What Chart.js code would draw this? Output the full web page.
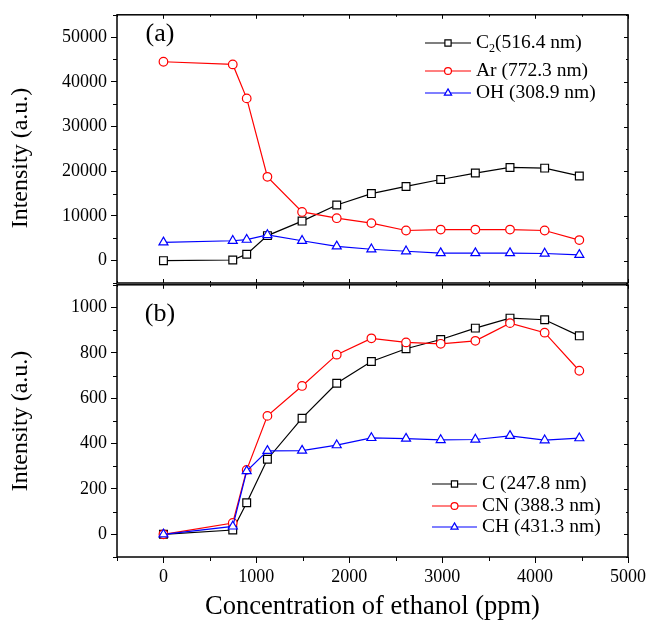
<!DOCTYPE html>
<html><head><meta charset="utf-8">
<script src="https://cdn.jsdelivr.net/npm/chart.js@4/dist/chart.umd.min.js"></script>
<style>
html,body{margin:0;padding:0;background:#fff;}
#wrap{position:relative;width:649px;height:624px;overflow:hidden;font-family:"Liberation Serif","Times New Roman",serif;}
canvas{position:absolute;left:0;}
.ytitle{position:absolute;font-size:24px;white-space:nowrap;transform:translate(-50%,-50%) rotate(-90deg);color:#000;line-height:1;}
</style></head><body>
<div id="wrap">
<canvas id="ca" width="649" height="300" style="top:0;width:649px;height:300px"></canvas>
<canvas id="cb" width="649" height="354" style="top:270px;width:649px;height:354px"></canvas>
<div class="ytitle" style="left:19px;top:158px">Intensity (a.u.)</div>
<div class="ytitle" style="left:19px;top:421px">Intensity (a.u.)</div>
</div>
<script>
// ---- data ----
const concentration = [0, 746, 896, 1119, 1492, 1865, 2238, 2611, 2984, 3357, 3730, 4103, 4476];
// panel (a)
const c2Values = [0, 150, 1450, 5600, 8850, 12450, 15000, 16600, 18150, 19600, 20850, 20700, 18950];
const arValues = [44500, 43900, 36300, 18750, 10900, 9500, 8400, 6750, 6950, 6950, 6950, 6750, 4600];
const ohValues = [4100, 4450, 4700, 5750, 4450, 3200, 2550, 2100, 1700, 1700, 1700, 1600, 1300];
// panel (b)
const cValues  = [0, 19, 139, 331, 512, 666, 762, 818, 859, 909, 953, 946, 875];
const cnValues = [0, 50, 284, 522, 654, 792, 864, 846, 840, 853, 931, 889, 721];
const chValues = [0, 35, 279, 368, 369, 393, 425, 422, 416, 418, 434, 415, 424];
// labels
const labelsA = ['C₂(516.4 nm)', 'Ar (772.3 nm)', 'OH (308.9 nm)'];
const labelsB = ['C (247.8 nm)', 'CN (388.3 nm)', 'CH (431.3 nm)'];
// ticks
const xTicks = [0, 1000, 2000, 3000, 4000, 5000];
const yTicksA = [0, 10000, 20000, 30000, 40000, 50000];
const yTicksB = [0, 200, 400, 600, 800, 1000];

const FONT = '"Liberation Serif", "Times New Roman", serif';

function pts(ys){ return concentration.map((x,i)=>({x:x, y:ys[i]})); }
function ds(label, ys, color, style, r, order){
  return {label, data: pts(ys), borderColor: color, backgroundColor:'#fff',
    borderWidth:1.2, pointStyle:style, pointRadius:r, pointBorderWidth:1.2,
    pointBackgroundColor:'#fff', pointBorderColor:color, tension:0, order, clip:false};
}

function marker(ctx, style, r, x, y){
  ctx.beginPath();
  if(style==='rect'){ const s=r*Math.SQRT1_2; ctx.rect(x-s,y-s,2*s,2*s); }
  else if(style==='circle'){ ctx.arc(x,y,r,0,Math.PI*2); }
  else { const a=Math.sin(2*Math.PI/3)*r; ctx.moveTo(x,y-r); ctx.lineTo(x+a,y+r/2); ctx.lineTo(x-a,y+r/2); ctx.closePath(); }
  ctx.fill(); ctx.stroke();
}
function drawLabel(ctx, text, x, y, size){
  ctx.textAlign='left'; ctx.textBaseline='middle'; ctx.fillStyle='#000';
  const f = size+'px '+FONT;
  ctx.font=f;
  const parts = text.split('₂');
  if(parts.length===1){ ctx.fillText(text,x,y); return; }
  ctx.fillText(parts[0],x,y); let w=ctx.measureText(parts[0]).width;
  ctx.font=(size*0.62)+'px '+FONT;
  ctx.fillText('2',x+w,y+size*0.3); w+=ctx.measureText('2').width;
  ctx.font=f; ctx.fillText(parts[1],x+w,y);
}

const decor = {
  id:'decor',
  afterDatasetsDraw(chart, args, o){
    const ctx=chart.ctx, a=chart.chartArea, xs=chart.scales.x, ys=chart.scales.y;
    ctx.save();
    ctx.strokeStyle='#000'; ctx.lineWidth=1;
    for(let v=ys.min; v<=ys.max+1e-6; v+=o.yMinor){
      const p=Math.round(ys.getPixelForValue(v))+0.5;
      const major = o.yMajor.includes(v);
      ctx.beginPath();
      if(!major){ ctx.moveTo(a.left-4,p); ctx.lineTo(a.left,p); }
      ctx.moveTo(a.right,p); ctx.lineTo(a.right-(major?4:2),p);
      ctx.stroke();
    }
    for(let v=xs.min; v<=xs.max+1e-6; v+=500){
      const p=Math.round(xs.getPixelForValue(v))+0.5;
      const major = xTicks.includes(v);
      ctx.beginPath();
      ctx.moveTo(p,a.top); ctx.lineTo(p,a.top+(major?4:2));
      if(o.bottomOut){ if(!major){ ctx.moveTo(p,a.bottom); ctx.lineTo(p,a.bottom+4);} }
      else { ctx.moveTo(p,a.bottom); ctx.lineTo(p,a.bottom-(major?4:2)); }
      ctx.stroke();
    }
    ctx.lineWidth=1.5;
    ctx.strokeRect(a.left,a.top,a.right-a.left,a.bottom-a.top);
    ctx.fillStyle='#000'; ctx.font=o.panelSize+'px '+FONT; ctx.textAlign='center'; ctx.textBaseline='middle';
    ctx.fillText(o.panel,o.panelX,o.panelY);
    chart.data.datasets.forEach((d,i)=>{
      const y=o.rows[i];
      ctx.strokeStyle=d.borderColor; ctx.lineWidth=1.2;
      ctx.beginPath(); ctx.moveTo(o.lx0,y); ctx.lineTo(o.lx1,y); ctx.stroke();
      ctx.fillStyle='#fff';
      marker(ctx,d.pointStyle,d.pointRadius*0.8,(o.lx0+o.lx1)/2,y);
      drawLabel(ctx,d.label,o.tx,y,o.size);
    });
    ctx.restore();
  }
};

function yScale(min,max,ticks){
  return {type:'linear', min, max,
    afterFit(s){ s.width=117; },
    afterBuildTicks(s){ s.ticks=ticks.map(v=>({value:v})); },
    ticks:{font:{family:FONT,size:18}, color:'#000', padding:4, callback:v=>String(v)},
    grid:{drawOnChartArea:false, drawTicks:true, tickLength:6, color:'#000', lineWidth:1},
    border:{display:false}, title:{display:false}};
}

new Chart(document.getElementById('ca'), {
  type:'line',
  data:{datasets:[
    ds(labelsA[0], c2Values, '#000000', 'rect', 5.5, 3),
    ds(labelsA[1], arValues, '#ff0000', 'circle', 4.3, 2),
    ds(labelsA[2], ohValues, '#0000ff', 'triangle', 5.2, 1)
  ]},
  options:{
    responsive:false, devicePixelRatio:1, animation:false, events:[],
    layout:{padding:{left:0,right:21,top:11,bottom:17}},
    scales:{
      x:{type:'linear', min:-500, max:5000, display:false},
      y:yScale(-5000,55000,yTicksA)
    },
    plugins:{legend:{display:false}, tooltip:{enabled:false},
      decor:{yMinor:5000, yMajor:yTicksA, bottomOut:false, panel:'(a)', panelX:160, panelY:34, panelSize:26,
        rows:[43,71,93], lx0:425, lx1:471, tx:476, size:19.5}}
  },
  plugins:[decor]
});

new Chart(document.getElementById('cb'), {
  type:'line',
  data:{datasets:[
    ds(labelsB[0], cValues, '#000000', 'rect', 5.5, 3),
    ds(labelsB[1], cnValues, '#ff0000', 'circle', 4.3, 2),
    ds(labelsB[2], chValues, '#0000ff', 'triangle', 5.2, 1)
  ]},
  options:{
    responsive:false, devicePixelRatio:1, animation:false, events:[],
    layout:{padding:{left:0,right:21,top:13,bottom:0}},
    scales:{
      x:{type:'linear', min:-500, max:5000,
        afterFit(s){ s.height=67; },
        afterBuildTicks(s){ s.ticks=xTicks.map(v=>({value:v})); },
        ticks:{font:{family:FONT,size:18}, color:'#000', padding:3, maxRotation:0, autoSkip:false, callback:v=>String(v)},
        grid:{drawOnChartArea:false, drawTicks:true, tickLength:6, color:'#000', lineWidth:1},
        border:{display:false},
        title:{display:true, text:'Concentration of ethanol (ppm)', font:{family:FONT,size:26.5}, color:'#000', padding:{top:0,bottom:1}}
      },
      y:yScale(-100,1100,yTicksB)
    },
    plugins:{legend:{display:false}, tooltip:{enabled:false},
      decor:{yMinor:100, yMajor:yTicksB, bottomOut:true, panel:'(b)', panelX:160, panelY:44, panelSize:26,
        rows:[214,236,257], lx0:432, lx1:477, tx:482, size:19.5}}
  },
  plugins:[decor]
});
</script>
</body></html>
